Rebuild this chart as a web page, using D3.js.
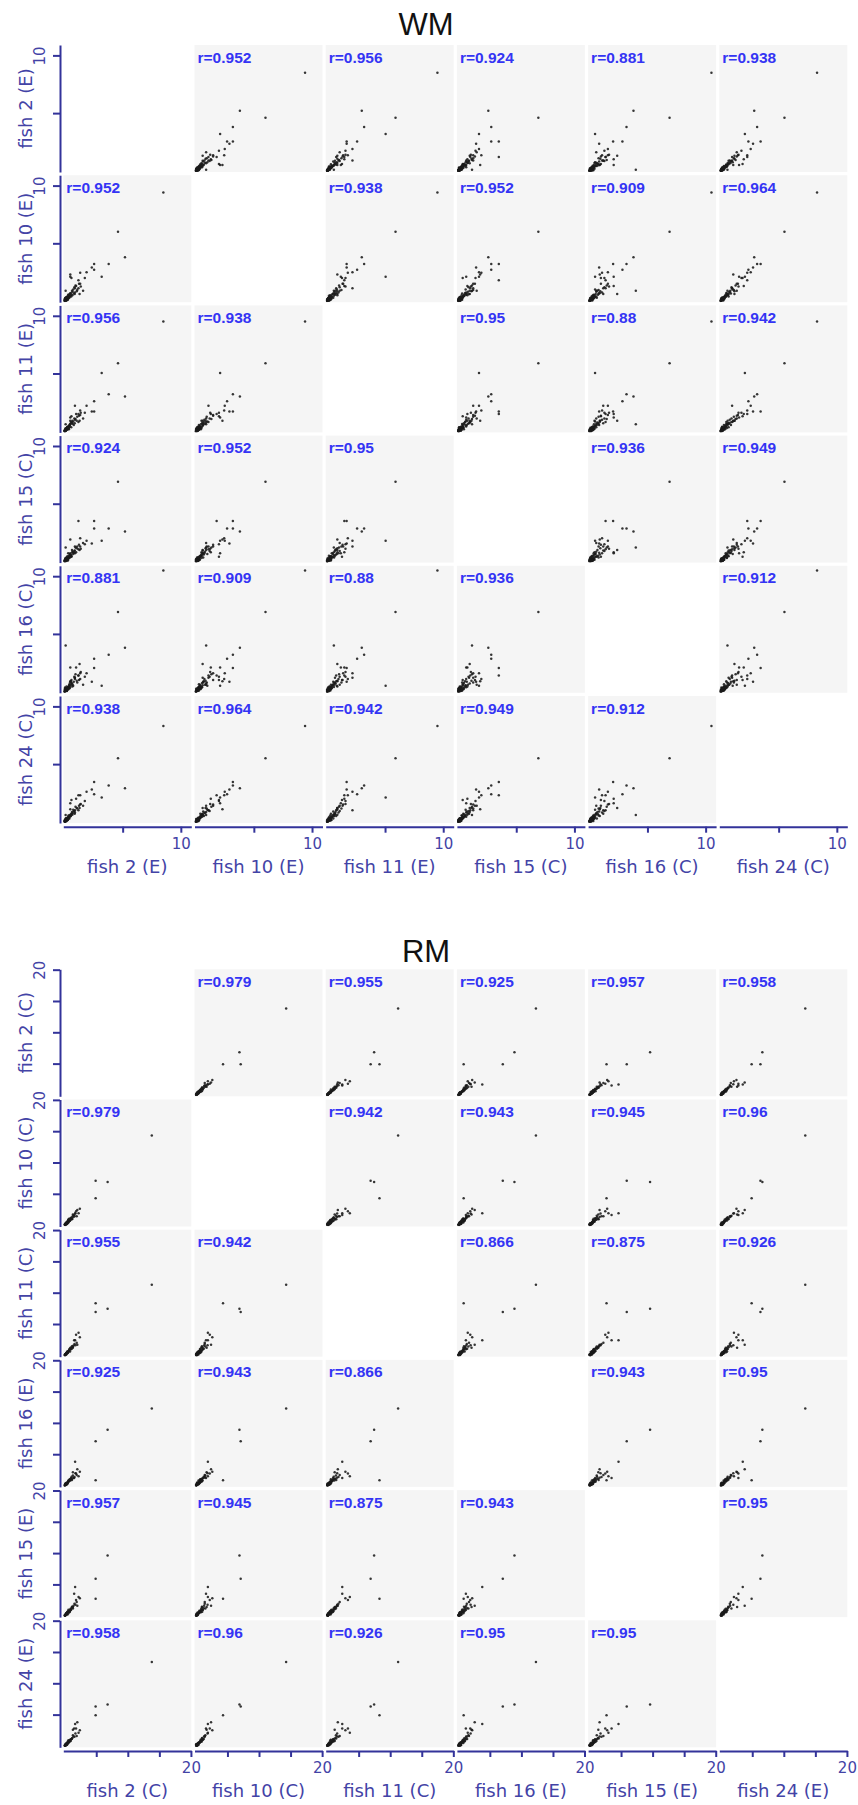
<!DOCTYPE html>
<html>
<head>
<meta charset="utf-8">
<script src="https://cdn.jsdelivr.net/npm/d3@7"></script>
<style>
  body { margin: 0; background: #fff; }
  svg { display: block; }
</style>
</head>
<body>
<svg id="chart" width="858" height="1805"></svg>
<script>
// ---------------- WM: expression values per fish (same gene order in every array) ----------------
const wmNames = ["fish 2 (E)", "fish 10 (E)", "fish 11 (E)", "fish 15 (C)", "fish 16 (C)", "fish 24 (C)"];
const wmFish2 = [8.5,5.2,4.6,3.8,3.2,2.55,2.55,2.35,0.1,1.9,1.75,1.35,1.3,1.6,1.0,1.35,0.5,0.5,0.6,0.9,1.2,
  0.05,0.10,0.20,0.12,0.30,0.25,0.40,0.15,0.35,0.50,0.08,0.45,0.60,0.22,0.70,0.18,0.55,0.80,0.28,0.65,
  0.90,0.38,0.02,0.75,1.05,0.42,0.12,0.85,1.10,0.32,0.58,0.95,1.20,0.48,0.68,1.25,0.20,0.88,1.40,0.05,
  0.00,0.03,0.08,0.01,0.14,0.06,0.18,0.24,0.10,0.26,0.16,0.32,0.04,0.22,0.36,0.12,0.02,0.44,0.07,0.30];
const wmFish10 = [9.4,3.8,6.0,3.2,2.1,2.7,3.2,2.9,0.9,2.5,2.0,1.5,0.6,0.9,1.3,2.45,2.1,2.3,2.0,1.1,1.8,
  0.10,0.15,0.18,0.30,0.25,0.40,0.35,0.05,0.50,0.45,0.22,0.60,0.55,0.12,0.80,0.35,0.70,0.65,0.20,0.90,
  0.75,0.45,0.05,1.00,0.85,0.28,0.18,1.20,0.95,0.55,0.40,1.35,1.10,0.65,0.50,1.50,0.08,0.60,1.25,0.25,
  0.02,0.00,0.06,0.08,0.10,0.14,0.24,0.16,0.20,0.30,0.04,0.22,0.12,0.28,0.32,0.26,0.18,0.38,0.03,0.12];
const wmFish11 = [9.5,3.0,5.9,3.2,5.05,2.6,1.7,1.7,0.6,2.2,1.6,1.4,0.9,1.1,1.5,1.8,1.2,0.9,1.3,2.2,1.5,
  0.08,0.12,0.25,0.20,0.35,0.30,0.45,0.10,0.28,0.60,0.15,0.50,0.70,0.30,0.65,0.22,0.80,0.55,0.40,0.75,
  1.00,0.18,0.04,0.85,0.90,0.55,0.05,1.10,1.25,0.42,0.35,1.05,0.80,0.62,0.90,1.35,0.15,0.70,1.60,0.10,
  0.03,0.01,0.02,0.06,0.18,0.09,0.12,0.20,0.26,0.16,0.22,0.28,0.00,0.34,0.24,0.14,0.07,0.40,0.16,0.32];
const wmFish15 = [11.8,2.6,6.9,2.85,1.8,2.85,3.5,1.55,1.2,1.8,1.5,1.3,1.0,1.6,0.8,2.0,0.7,1.9,0.4,1.3,3.5,
  0.12,0.08,0.30,0.18,0.22,0.45,0.38,0.20,0.30,0.55,0.05,0.65,0.50,0.35,0.85,0.15,0.60,0.75,0.25,1.00,
  0.70,0.50,0.03,0.65,1.15,0.40,0.25,0.90,1.30,0.70,0.45,1.20,1.05,0.35,0.80,1.45,0.10,0.95,1.10,0.15,
  0.01,0.05,0.00,0.09,0.06,0.16,0.22,0.12,0.28,0.20,0.14,0.34,0.08,0.10,0.26,0.32,0.04,0.42,0.19,0.08];
const wmFish16 = [10.5,3.8,6.9,3.2,0.5,2.85,2.05,0.85,4.0,1.6,1.3,1.6,2.4,0.6,2.1,1.1,2.1,0.9,1.0,1.2,1.4,
  0.06,0.20,0.15,0.25,0.40,0.20,0.50,0.12,0.35,0.40,0.30,0.55,0.75,0.10,0.60,0.45,0.90,0.85,0.30,0.70,
  1.10,0.28,0.08,0.50,0.95,0.65,0.15,1.30,0.80,0.38,0.60,1.50,1.40,0.80,0.45,1.00,0.05,1.20,1.70,0.35,
  0.00,0.02,0.10,0.04,0.12,0.18,0.08,0.22,0.14,0.32,0.26,0.18,0.16,0.24,0.42,0.10,0.22,0.30,0.03,0.28];
const wmFish24 = [8.3,2.9,5.5,3.15,2.1,2.4,3.45,2.8,0.6,2.6,1.8,1.5,1.2,1.4,2.0,2.3,1.6,1.1,1.9,1.0,2.3,
  0.10,0.14,0.22,0.28,0.30,0.35,0.42,0.06,0.55,0.48,0.18,0.60,0.65,0.25,0.75,0.32,0.50,0.90,0.15,0.85,
  0.80,0.40,0.05,1.05,1.20,0.30,0.20,0.95,1.15,0.45,0.70,1.30,1.00,0.55,0.62,1.40,0.12,0.70,1.55,0.08,
  0.02,0.00,0.04,0.07,0.16,0.03,0.20,0.26,0.09,0.18,0.24,0.36,0.11,0.13,0.28,0.30,0.16,0.46,0.09,0.21];
// correlation coefficients shown in each off-diagonal panel (row = y fish, column = x fish)
const wmR = [
  [null, 0.952, 0.956, 0.924, 0.881, 0.938],
  [0.952, null, 0.938, 0.952, 0.909, 0.964],
  [0.956, 0.938, null, 0.95, 0.88, 0.942],
  [0.924, 0.952, 0.95, null, 0.936, 0.949],
  [0.881, 0.909, 0.88, 0.936, null, 0.912],
  [0.938, 0.964, 0.942, 0.949, 0.912, null]
];
const wmDomain = [-0.1, 10.9];
const wmTicks = [5, 10];

// ---------------- RM: expression values per fish ----------------
const rmNames = ["fish 2 (C)", "fish 10 (C)", "fish 11 (C)", "fish 16 (E)", "fish 15 (E)", "fish 24 (E)"];
const rmFish2 = [13.8,6.8,4.9,4.9,1.65,1.8,1.5,2.0,2.4,2.2,1.3,1.9,
  0.10,0.30,0.50,0.20,0.80,0.40,1.00,0.65,0.05,1.20,0.35,0.90,0.15,0.55,1.40,0.25,0.75,1.10,0.45,0.02,
  0.60,1.30,0.12,0.85,0.38,1.55,0.70,0.08,0.95,0.28,1.70,0.48,0.18,1.15,0.00,0.58,0.32,0.22,0.04,0.42];
const rmFish10 = [14.3,6.9,4.3,7.1,1.9,2.2,1.6,2.4,2.6,1.9,1.7,1.4,
  0.15,0.25,0.60,0.35,0.70,0.50,1.10,0.55,0.10,1.00,0.20,1.05,0.05,0.80,1.30,0.40,0.65,1.25,0.30,0.08,
  0.90,1.50,0.22,0.75,0.45,1.40,1.00,0.02,0.85,0.12,1.85,0.65,0.30,0.95,0.05,0.42,0.38,0.18,0.12,0.28];
const rmFish11 = [11.25,7.45,8.3,6.9,2.4,3.3,2.4,1.7,2.9,3.6,1.2,2.0,
  0.12,0.40,0.45,0.25,0.90,0.60,0.95,0.75,0.02,1.30,0.30,1.15,0.20,0.50,1.55,0.15,1.00,1.05,0.55,0.10,
  0.70,1.40,0.06,0.60,0.48,1.80,0.85,0.15,1.20,0.35,1.60,0.38,0.22,1.45,0.04,0.65,0.28,0.32,0.08,0.50];
const rmFish16 = [12.3,8.9,0.85,7.05,3.8,1.9,1.2,2.6,2.2,1.5,2.1,1.7,
  0.20,0.22,0.55,0.15,0.85,0.35,1.20,0.70,0.08,1.10,0.45,0.80,0.10,0.65,1.25,0.30,0.95,1.40,0.50,0.04,
  0.60,1.60,0.28,1.00,0.25,1.35,0.75,0.12,1.05,0.18,1.95,0.42,0.35,0.90,0.00,0.80,0.24,0.40,0.16,0.30];
const rmFish15 = [22.5,9.6,2.7,5.9,4.6,2.5,3.5,1.6,2.8,3.0,1.4,2.2,
  0.08,0.35,0.70,0.30,0.60,0.45,0.90,0.80,0.12,1.35,0.25,1.00,0.18,0.55,1.60,0.40,0.70,1.20,0.20,0.02,
  0.95,1.15,0.15,0.85,0.55,1.90,0.65,0.05,1.10,0.32,1.75,0.60,0.10,1.45,0.06,0.38,0.42,0.28,0.00,0.50];
const rmFish24 = [13.4,6.6,4.9,6.3,3.5,2.8,2.8,3.8,2.5,2.1,2.6,1.6,
  0.10,0.30,0.50,0.40,0.75,0.55,1.05,0.60,0.06,1.25,0.20,0.95,0.25,0.85,1.50,0.15,0.70,1.10,0.45,0.12,
  0.65,1.70,0.05,1.00,0.35,1.45,0.90,0.18,0.80,0.28,2.00,0.58,0.22,1.20,0.02,0.48,0.38,0.12,0.08,0.25];
const rmR = [
  [null, 0.979, 0.955, 0.925, 0.957, 0.958],
  [0.979, null, 0.942, 0.943, 0.945, 0.96],
  [0.955, 0.942, null, 0.866, 0.875, 0.926],
  [0.925, 0.943, 0.866, null, 0.943, 0.95],
  [0.957, 0.945, 0.875, 0.943, null, 0.95],
  [0.958, 0.96, 0.926, 0.95, 0.95, null]
];
const rmDomain = [-0.22, 20.06];
const rmTicks = [5, 10, 15, 20];

// ---------------- layout ----------------
const cellW = 128, cellH = 127;
const colStep = 131.2, rowStep = 130.2;
const colLeft0 = 63.3;
const axisColor = "#33339a";
const labelColor = "#4343a6";
const rColor = "#3434f4";
const panelFill = "#f5f5f5";
const dotColor = "#1a1a1a";

const svg = d3.select("#chart");
const defs = svg.append("defs");

function drawMatrix(id, title, titleY, top, names, values, rMatrix, domain, ticks) {
  const n = names.length;
  const g = svg.append("g").attr("class", "matrix-" + id);
  const maxTick = d3.max(ticks);

  g.append("text")
    .attr("x", 426).attr("y", titleY)
    .attr("text-anchor", "middle")
    .attr("font-family", "'Liberation Sans', Arial, sans-serif")
    .attr("font-size", 31)
    .attr("fill", "#111")
    .text(title);

  for (let i = 0; i < n; i++) {          // row -> y variable
    const rowTop = top + i * rowStep;
    const y = d3.scaleLinear().domain(domain).range([rowTop + cellH, rowTop]);

    for (let j = 0; j < n; j++) {        // column -> x variable
      const colLeft = colLeft0 + j * colStep;
      const x = d3.scaleLinear().domain(domain).range([colLeft, colLeft + cellW]);
      if (i === j) continue;

      const clipId = `clip-${id}-${i}-${j}`;
      defs.append("clipPath").attr("id", clipId)
        .append("rect").attr("x", colLeft).attr("y", rowTop)
        .attr("width", cellW).attr("height", cellH);

      const panel = g.append("g");
      panel.append("rect")
        .attr("x", colLeft).attr("y", rowTop)
        .attr("width", cellW).attr("height", cellH)
        .attr("fill", panelFill);

      const pts = values[j].map((v, k) => [v, values[i][k]]);
      panel.append("g").attr("clip-path", `url(#${clipId})`)
        .selectAll("circle").data(pts).join("circle")
        .attr("cx", d => x(d[0])).attr("cy", d => y(d[1]))
        .attr("r", 1.25)
        .attr("fill", dotColor)
        .attr("fill-opacity", 0.88);

      panel.append("text")
        .attr("x", colLeft + 3).attr("y", rowTop + 17.5)
        .attr("font-family", "'Liberation Sans', Arial, sans-serif")
        .attr("font-size", 15.5)
        .attr("font-weight", "bold")
        .attr("fill", rColor)
        .text("r=" + rMatrix[i][j]);
    }

    // left axis for this row
    const ya = g.append("g").attr("transform", "translate(60,0)")
      .call(d3.axisLeft(y).tickValues(ticks).tickSize(7).tickSizeOuter(0)
        .tickFormat(d => d === maxTick ? d : ""));
    styleAxis(ya);
    ya.selectAll(".tick text")
      .attr("transform", "rotate(-90)")
      .attr("x", 0).attr("y", -15).attr("dy", null)
      .attr("text-anchor", "middle");

    g.append("text")
      .attr("transform", `translate(32,${rowTop + cellH / 2}) rotate(-90)`)
      .attr("text-anchor", "middle")
      .attr("font-family", "'DejaVu Sans', Verdana, sans-serif")
      .attr("font-size", 18)
      .attr("fill", labelColor)
      .text(names[i]);
  }

  // bottom axes, one per column
  const axisY = top + (n - 1) * rowStep + cellH + 3.7;
  for (let j = 0; j < n; j++) {
    const colLeft = colLeft0 + j * colStep;
    const x = d3.scaleLinear().domain(domain).range([colLeft, colLeft + cellW]);
    const xa = g.append("g").attr("transform", `translate(0,${axisY})`)
      .call(d3.axisBottom(x).tickValues(ticks).tickSize(6).tickSizeOuter(0)
        .tickFormat(d => d === maxTick ? d : ""));
    styleAxis(xa);
    xa.selectAll(".tick text").attr("y", 22).attr("dy", null);

    g.append("text")
      .attr("x", colLeft + cellW / 2).attr("y", axisY + 46)
      .attr("text-anchor", "middle")
      .attr("font-family", "'DejaVu Sans', Verdana, sans-serif")
      .attr("font-size", 18)
      .attr("fill", labelColor)
      .text(names[j]);
  }
}

function styleAxis(sel) {
  sel.select(".domain").attr("stroke", axisColor).attr("stroke-width", 2);
  sel.selectAll(".tick line").attr("stroke", axisColor).attr("stroke-width", 2);
  sel.selectAll(".tick text")
    .attr("fill", labelColor)
    .attr("font-family", "'DejaVu Sans', Verdana, sans-serif")
    .attr("font-size", 15);
}

drawMatrix("wm", "WM", 35, 45, wmNames,
  [wmFish2, wmFish10, wmFish11, wmFish15, wmFish16, wmFish24], wmR, wmDomain, wmTicks);
drawMatrix("rm", "RM", 961.7, 969.3, rmNames,
  [rmFish2, rmFish10, rmFish11, rmFish16, rmFish15, rmFish24], rmR, rmDomain, rmTicks);
</script>
</body>
</html>
